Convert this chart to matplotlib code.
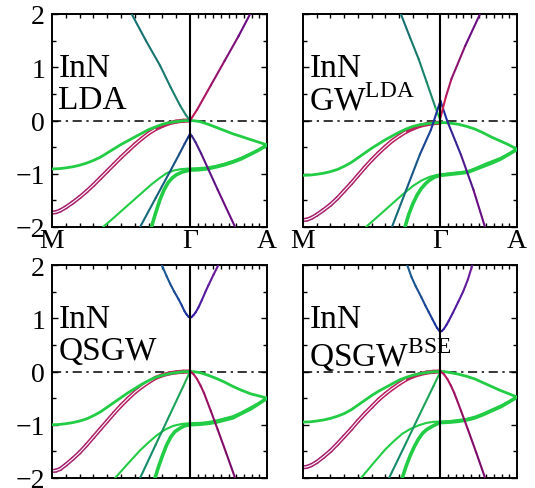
import numpy as np
import matplotlib
matplotlib.use("Agg")
import matplotlib.pyplot as plt
from matplotlib.collections import LineCollection
from matplotlib.colors import to_rgb

plt.rcParams['font.family'] = ['Liberation Serif', 'DejaVu Serif']
plt.rcParams['mathtext.fontset'] = 'custom'
plt.rcParams['mathtext.rm'] = 'Liberation Serif'

# ---------------- k-path ----------------
K_M, K_G, K_A = 0.0, 1.0, 1.557
path_labels = ['M', 'Γ', 'A']

# common k samples used for the smooth valence bands along M-Gamma-A
k_mg = [0, 0.03, 0.06, 0.1, 0.15, 0.2, 0.25, 0.3, 0.35, 0.4, 0.45, 0.5, 0.55,
        0.6, 0.65, 0.7, 0.75, 0.8, 0.85, 0.9, 0.95, 1.0]
k_mga = [0, 0.05, 0.1, 0.15, 0.2, 0.25, 0.3, 0.35, 0.4, 0.45, 0.5, 0.55, 0.6,
         0.65, 0.7, 0.75, 0.8, 0.85, 0.9, 0.95, 1.0,
         1.03, 1.07, 1.13, 1.19, 1.25, 1.31, 1.37, 1.44, 1.5, 1.557]

# ---------------- LDA ----------------
lda_hh_e = [-1.73, -1.72, -1.69, -1.63, -1.54, -1.44, -1.33, -1.21, -1.08, -0.95, -0.82,
            -0.69, -0.57, -0.45, -0.34, -0.24, -0.16, -0.10, -0.05, -0.02, -0.005, 0.0]
lda_cf_e = [-0.91, -0.905, -0.89, -0.87, -0.84, -0.80, -0.75, -0.69, -0.61, -0.53, -0.45,
            -0.38, -0.31, -0.24, -0.17, -0.12, -0.07, -0.04, -0.02, -0.005, 0.0,
            -0.005, -0.02, -0.07, -0.13, -0.19, -0.25, -0.30, -0.36, -0.41, -0.46]
lda_lo1_k = [0.37, 0.45, 0.55, 0.65, 0.72, 0.78, 0.83, 0.88, 0.93, 1.0,
             1.06, 1.13, 1.19, 1.25, 1.31, 1.37, 1.44, 1.5, 1.557]
lda_lo1_e = [-2.0, -1.82, -1.59, -1.36, -1.20, -1.08, -0.99, -0.94, -0.915, -0.90,
             -0.895, -0.88, -0.85, -0.81, -0.76, -0.70, -0.62, -0.55, -0.46]
lda_lo2_k = [0.72, 0.75, 0.78, 0.81, 0.84, 0.87, 0.9, 0.94, 1.0,
             1.06, 1.13, 1.19, 1.25, 1.31, 1.37, 1.44, 1.5, 1.557]
lda_lo2_e = [-2.0, -1.74, -1.50, -1.31, -1.17, -1.08, -1.02, -0.97, -0.93,
             -0.925, -0.905, -0.87, -0.83, -0.78, -0.72, -0.63, -0.55, -0.46]
lda_cbl_k = [0.577, 0.68, 0.783, 0.86, 0.928, 0.97, 1.0]
lda_cbl_e = [2.0, 1.50, 1.03, 0.62, 0.28, 0.10, 0.0]
lda_cbr_k = [1.0, 1.05, 1.15, 1.25, 1.35, 1.435]
lda_cbr_e = [0.0, 0.20, 0.66, 1.12, 1.58, 2.0]
lda_sl_k = [0.638, 0.75, 0.85, 0.92, 0.96, 0.985, 1.0]
lda_sl_e = [-2.0, -1.46, -0.98, -0.64, -0.44, -0.32, -0.25]
lda_sr_k = [1.0, 1.015, 1.04, 1.08, 1.2, 1.326]
lda_sr_e = [-0.25, -0.30, -0.41, -0.62, -1.30, -2.0]

# ---------------- GW^LDA ----------------
gw_hh_e = [-1.87, -1.86, -1.83, -1.77, -1.68, -1.58, -1.46, -1.32, -1.18, -1.03, -0.88,
           -0.74, -0.61, -0.49, -0.38, -0.29, -0.21, -0.15, -0.10, -0.07, -0.05, -0.04]
gw_cf_e = [-1.03, -1.025, -1.01, -0.99, -0.96, -0.92, -0.86, -0.79, -0.70, -0.61, -0.52,
           -0.44, -0.36, -0.29, -0.22, -0.16, -0.11, -0.08, -0.06, -0.045, -0.04,
           -0.04, -0.05, -0.07, -0.11, -0.16, -0.23, -0.31, -0.39, -0.46, -0.54]
gw_lo1_k = [0.458, 0.55, 0.65, 0.72, 0.8, 0.86, 0.92, 0.96, 1.0,
            1.07, 1.14, 1.2, 1.26, 1.32, 1.38, 1.44, 1.5, 1.557]
gw_lo1_e = [-2.0, -1.79, -1.56, -1.40, -1.23, -1.13, -1.06, -1.03, -1.01,
            -0.99, -0.97, -0.95, -0.89, -0.82, -0.76, -0.70, -0.62, -0.54]
gw_lo2_k = [0.742, 0.77, 0.80, 0.83, 0.86, 0.89, 0.92, 0.96, 1.0,
            1.07, 1.14, 1.2, 1.26, 1.32, 1.38, 1.44, 1.5, 1.557]
gw_lo2_e = [-2.0, -1.76, -1.56, -1.40, -1.28, -1.19, -1.12, -1.06, -1.03,
            -1.01, -0.99, -0.97, -0.91, -0.85, -0.79, -0.72, -0.63, -0.54]
gw_cbl_k = [0.712, 0.78, 0.842, 0.90, 0.964]
gw_cbl_e = [2.0, 1.55, 1.15, 0.72, 0.24]
gw_cbg_k = [0.964, 1.0]
gw_cbg_e = [0.24, 0.0]
gw_sl_k = [0.647, 0.75, 0.85, 0.93, 1.0]
gw_sl_e = [-2.0, -1.31, -0.64, -0.18, 0.37]
gw_sr_k = [1.0, 1.048, 1.15, 1.24, 1.324]
gw_sr_e = [0.37, 0.0, -0.65, -1.30, -2.0]
gw_cbr_k = [1.0, 1.04, 1.08, 1.18, 1.288]
gw_cbr_e = [0.05, 0.45, 0.78, 1.40, 2.0]

# ---------------- QSGW ----------------
qs_hh_e = [-1.87, -1.86, -1.83, -1.75, -1.64, -1.52, -1.38, -1.23, -1.08, -0.93, -0.78,
           -0.64, -0.51, -0.39, -0.29, -0.20, -0.12, -0.07, -0.035, -0.015, -0.004, 0.0]
qs_cf_e = [-1.0, -0.995, -0.98, -0.96, -0.93, -0.89, -0.83, -0.76, -0.67, -0.58, -0.49,
           -0.40, -0.32, -0.24, -0.17, -0.11, -0.07, -0.04, -0.02, -0.005, 0.0,
           -0.005, -0.02, -0.07, -0.13, -0.20, -0.28, -0.35, -0.42, -0.46, -0.50]
qs_lo1_k = [0.457, 0.55, 0.638, 0.7, 0.758, 0.82, 0.879, 0.94, 1.0,
            1.07, 1.13, 1.19, 1.25, 1.31, 1.37, 1.44, 1.5, 1.557]
qs_lo1_e = [-2.0, -1.73, -1.48, -1.33, -1.20, -1.09, -1.02, -0.985, -0.97,
            -0.965, -0.95, -0.92, -0.88, -0.84, -0.77, -0.67, -0.59, -0.50]
qs_lo2_k = [0.746, 0.77, 0.80, 0.83, 0.86, 0.89, 0.93, 0.96, 1.0,
            1.07, 1.13, 1.19, 1.25, 1.31, 1.37, 1.44, 1.5, 1.557]
qs_lo2_e = [-2.0, -1.80, -1.58, -1.38, -1.23, -1.13, -1.06, -1.02, -1.0,
            -0.99, -0.975, -0.95, -0.91, -0.87, -0.79, -0.70, -0.60, -0.50]
qs_lin_k = [0.638, 0.75, 0.85, 0.95, 1.0]
qs_lin_e = [-2.0, -1.38, -0.83, -0.28, 0.0]
qs_vbr_k = [1.0, 1.025, 1.05, 1.075, 1.1, 1.15, 1.2, 1.26, 1.326]
qs_vbr_e = [0.0, -0.05, -0.14, -0.26, -0.40, -0.74, -1.09, -1.52, -2.0]
qs_cbl_k = [0.795, 0.83, 0.855, 0.885, 0.916, 0.94, 0.96, 0.975, 0.99, 1.0]
qs_cbl_e = [2.0, 1.79, 1.65, 1.50, 1.36, 1.24, 1.13, 1.07, 1.025, 1.01]
qs_cbr_k = [1.0, 1.01, 1.025, 1.04, 1.06, 1.085, 1.11, 1.133, 1.17, 1.205]
qs_cbr_e = [1.01, 1.02, 1.06, 1.11, 1.20, 1.34, 1.49, 1.62, 1.82, 2.0]

# ---------------- QSGW^BSE ----------------
bse_hh_e = [-1.80, -1.79, -1.76, -1.70, -1.60, -1.49, -1.36, -1.22, -1.08, -0.93, -0.79,
            -0.66, -0.53, -0.42, -0.32, -0.23, -0.15, -0.09, -0.05, -0.02, -0.005, 0.0]
bse_cf_e = [-0.95, -0.945, -0.93, -0.91, -0.88, -0.84, -0.79, -0.72, -0.63, -0.54, -0.45,
            -0.37, -0.30, -0.23, -0.16, -0.11, -0.07, -0.04, -0.02, -0.005, 0.0,
            -0.003, -0.02, -0.05, -0.09, -0.14, -0.21, -0.28, -0.36, -0.42, -0.48]
bse_lo1_k = [0.422, 0.51, 0.6, 0.66, 0.722, 0.78, 0.842, 0.9, 0.95, 1.0,
             1.07, 1.13, 1.19, 1.25, 1.31, 1.37, 1.44, 1.5, 1.557]
bse_lo1_e = [-2.0, -1.73, -1.46, -1.31, -1.17, -1.08, -1.01, -0.965, -0.945, -0.94,
             -0.93, -0.91, -0.89, -0.85, -0.79, -0.72, -0.64, -0.56, -0.48]
bse_lo2_k = [0.722, 0.75, 0.78, 0.81, 0.84, 0.87, 0.9, 0.94, 0.97, 1.0,
             1.07, 1.13, 1.19, 1.25, 1.31, 1.37, 1.44, 1.5, 1.557]
bse_lo2_e = [-2.0, -1.78, -1.58, -1.41, -1.27, -1.16, -1.09, -1.03, -0.99, -0.96,
             -0.95, -0.935, -0.91, -0.87, -0.81, -0.74, -0.66, -0.57, -0.48]
bse_lin_k = [0.626, 0.75, 0.85, 0.95, 1.0]
bse_lin_e = [-2.0, -1.34, -0.80, -0.27, 0.0]
bse_vbr_k = [1.0, 1.025, 1.05, 1.075, 1.1, 1.15, 1.2, 1.26, 1.325]
bse_vbr_e = [0.0, -0.05, -0.14, -0.26, -0.40, -0.74, -1.09, -1.52, -2.0]
bse_cbl_k = [0.758, 0.79, 0.82, 0.86, 0.89, 0.914, 0.94, 0.96, 0.975, 0.99, 1.0]
bse_cbl_e = [2.0, 1.77, 1.60, 1.40, 1.24, 1.12, 0.99, 0.89, 0.82, 0.77, 0.75]
bse_cbr_k = [1.0, 1.01, 1.025, 1.045, 1.06, 1.09, 1.13, 1.165, 1.2, 1.232]
bse_cbr_e = [0.75, 0.76, 0.80, 0.88, 0.95, 1.10, 1.31, 1.50, 1.73, 2.0]

GREEN = '#22cc44'
RED = '#c4205a'
RED2 = '#a02070'


def grad(ax, k, e, c0, c1, lw=1.5, z=3):
    pts = np.column_stack([k, e])
    segs = np.stack([pts[:-1], pts[1:]], axis=1)
    a = np.array(to_rgb(c0)); b = np.array(to_rgb(c1))
    t = np.linspace(0, 1, len(segs))
    cols = [tuple(a * (1 - s) + b * s) for s in t]
    lc = LineCollection(segs, colors=cols, linewidths=lw, zorder=z,
                        capstyle='round', joinstyle='round')
    ax.add_collection(lc)


def hh(ax, k, e):
    grad(ax, k, e, RED2, RED, lw=3.0, z=2)
    ax.plot(k[:-5], e[:-5], color='white', lw=0.8, zorder=2.1,
            solid_capstyle='butt')


def green(ax, k, e, lw=1.6):
    ax.plot(k, e, color=GREEN, lw=lw, zorder=3, solid_capstyle='round',
            solid_joinstyle='round')


W, H = 535, 489
fig = plt.figure(figsize=(W / 100, H / 100), dpi=100)

def mkax(x0, y0, x1, y1):
    return fig.add_axes([x0 / W, 1 - y1 / H, (x1 - x0) / W, (y1 - y0) / H])

ax_lda = mkax(52, 15, 267, 228)
ax_gw = mkax(303, 15, 517, 228)
ax_qs = mkax(52, 266, 267, 479)
ax_bse = mkax(303, 266, 517, 479)

minor_x = np.concatenate([np.linspace(K_M, K_G, 11), np.linspace(K_G, K_A, 11)[1:]])

for ax, lab_x, lab_y in [(ax_lda, True, True), (ax_gw, True, False),
                         (ax_qs, False, True), (ax_bse, False, False)]:
    ax.set_xlim(K_M, K_A)
    ax.set_ylim(-2, 2)
    ax.axvline(K_G, color='k', lw=1.5, zorder=4)
    ax.axhline(0, color='k', lw=1.1, ls=(0, (6, 3, 1.5, 3)), zorder=1)
    ax.set_xticks([K_M, K_G, K_A])
    ax.set_xticks(minor_x, minor=True)
    ax.set_yticks([-2, -1, 0, 1, 2])
    ax.set_yticks(np.arange(-2, 2.01, 0.5), minor=True)
    ax.set_xticklabels(path_labels if lab_x else [])
    ax.set_yticklabels(['−2', '−1', '0', '1', '2'] if lab_y else [])
    ax.tick_params(which='both', direction='in', top=True, right=True,
                   labelsize=20, width=1.0)
    ax.tick_params(which='major', length=4.5)
    ax.tick_params(which='minor', length=3)
    ax.tick_params(axis='x', which='major', length=0, pad=1)
    ax.tick_params(axis='y', pad=5)
    for s in ax.spines.values():
        s.set_linewidth(1.4)

panels = [
    (ax_lda, lda_hh_e, lda_cf_e, lda_lo1_k, lda_lo1_e, lda_lo2_k, lda_lo2_e),
    (ax_gw, gw_hh_e, gw_cf_e, gw_lo1_k, gw_lo1_e, gw_lo2_k, gw_lo2_e),
    (ax_qs, qs_hh_e, qs_cf_e, qs_lo1_k, qs_lo1_e, qs_lo2_k, qs_lo2_e),
    (ax_bse, bse_hh_e, bse_cf_e, bse_lo1_k, bse_lo1_e, bse_lo2_k, bse_lo2_e),
]
for ax, hh_e, cf_e, l1k, l1e, l2k, l2e in panels:
    hh(ax, k_mg, hh_e)
    green(ax, k_mga, cf_e, 2.0)
    green(ax, l1k, l1e, 1.5)
    green(ax, l2k, l2e, 2.6)

# LDA
grad(ax_lda, lda_cbl_k[::-1], lda_cbl_e[::-1], '#1f8a70', '#177070')
grad(ax_lda, lda_cbr_k, lda_cbr_e, '#c01858', '#6a0c82')
grad(ax_lda, lda_sl_k[::-1], lda_sl_e[::-1], '#1a2f8a', '#166a7a')
grad(ax_lda, lda_sr_k, lda_sr_e, '#2a2a90', '#6a0c82')

# GW
grad(ax_gw, gw_cbl_k, gw_cbl_e, '#177070', '#1a8a68')
green(ax_gw, gw_cbg_k, gw_cbg_e, 1.4)
grad(ax_gw, gw_sl_k[::-1], gw_sl_e[::-1], '#1a30a0', '#166a7a')
grad(ax_gw, gw_sr_k, gw_sr_e, '#1a30a0', '#6a0c82')
grad(ax_gw, gw_cbr_k, gw_cbr_e, '#d02050', '#6a0c82')

# QSGW
grad(ax_qs, qs_lin_k, qs_lin_e, '#138a6a', '#22b050')
grad(ax_qs, qs_vbr_k, qs_vbr_e, '#c01858', '#7a0a6a')
grad(ax_qs, qs_cbl_k, qs_cbl_e, '#1a5a90', '#1a28a0')
grad(ax_qs, qs_cbr_k, qs_cbr_e, '#2a1aa8', '#6a1a9a')

# QSGW BSE
grad(ax_bse, bse_lin_k, bse_lin_e, '#138a6a', '#22b050')
grad(ax_bse, bse_vbr_k, bse_vbr_e, '#c01858', '#7a0a6a')
grad(ax_bse, bse_cbl_k, bse_cbl_e, '#1a5a90', '#1a28a0')
grad(ax_bse, bse_cbr_k, bse_cbr_e, '#2a1aa8', '#6a1a9a')

labels = [(ax_lda, 'InN\nLDA'), (ax_gw, 'InN\nGW$^{\\mathrm{LDA}}$'),
          (ax_qs, 'InN\nQSGW'), (ax_bse, 'InN\nQSGW$^{\\mathrm{BSE}}$')]
for ax, t in labels:
    ax.text(0.03, 0.82, t, transform=ax.transAxes, va='top', ha='left',
            fontsize=24, linespacing=1.05, zorder=5)

fig.savefig('out.png', dpi=100)
